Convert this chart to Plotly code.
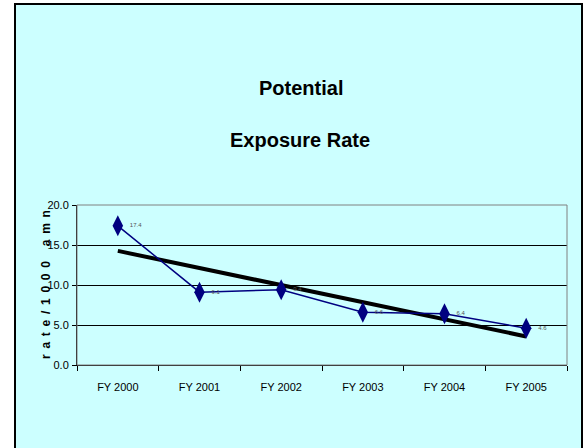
import numpy as np
import plotly.graph_objects as go

categories = ["FY 2000", "FY 2001", "FY 2002", "FY 2003", "FY 2004", "FY 2005"]
rate = [17.4, 9.1, 9.4, 6.6, 6.4, 4.6]
rate_labels = ["17.4", "9.1", "9.4", "6.6", "6.4", "4.6"]
y_ticks = [0, 5, 10, 15, 20]
y_tick_labels = ["0.0", "5.0", "10.0", "15.0", "20.0"]
y_title = "rate/1000 amn"

# linear trendline (least squares, as in the spreadsheet)
idx = np.arange(len(rate))
slope, intercept = np.polyfit(idx, rate, 1)
trend = list(intercept + slope * idx)

FONT = "Liberation Sans, Arial, sans-serif"

fig = go.Figure()
fig.add_trace(go.Scatter(
    x=categories, y=trend, mode="lines",
    line=dict(color="black", width=4), hoverinfo="skip", showlegend=False,
))
fig.add_trace(go.Scatter(
    x=categories, y=rate, mode="lines+markers+text",
    line=dict(color="#000080", width=1.5),
    marker=dict(symbol="diamond-tall", size=15, color="#000080"),
    text=[" " + t for t in rate_labels], textposition="middle right",
    textfont=dict(size=6, color="#555555", family=FONT),
    showlegend=False,
))

W, H = 585, 448
L, R, T, B = 77, 18, 205, 83
pw, ph = W - L - R, H - T - B

def px_x(p):
    return (p - L) / pw

def px_y(p):
    return (H - B - p) / ph

spaced_title = "\u00a0\u2009".join(list(y_title.replace(" ", "\u00a0")))

fig.update_layout(
    width=W, height=H,
    margin=dict(l=L, r=R, t=T, b=B, pad=0),
    paper_bgcolor="white",
    plot_bgcolor="#C0C0C0",
    font=dict(family=FONT, color="black", size=11),
    showlegend=False,
    shapes=[
        dict(type="rect", xref="paper", yref="paper",
             x0=px_x(15), x1=px_x(582), y0=px_y(4), y1=px_y(452),
             fillcolor="#CCFFFF", line=dict(color="black", width=2), layer="below"),
        dict(type="rect", xref="paper", yref="paper",
             x0=0, x1=1, y0=0, y1=1,
             fillcolor="rgba(0,0,0,0)", line=dict(color="#808080", width=1), layer="above"),
    ],
    annotations=[
        dict(text="<b>Potential</b>", xref="paper", yref="paper",
             x=px_x(301), y=px_y(88), xanchor="center", yanchor="middle", showarrow=False,
             font=dict(size=20, family=FONT, color="black")),
        dict(text="<b>Exposure Rate</b>", xref="paper", yref="paper",
             x=px_x(300), y=px_y(140), xanchor="center", yanchor="middle", showarrow=False,
             font=dict(size=20, family=FONT, color="black")),
        dict(text="<b>" + spaced_title + "</b>", xref="paper", yref="paper",
             x=px_x(46), y=px_y(285), xanchor="center", yanchor="middle",
             showarrow=False, textangle=-90,
             font=dict(size=12, family=FONT, color="black")),
    ],
)
fig.update_xaxes(
    type="category", tickson="boundaries", ticks="outside", ticklen=5,
    tickcolor="black", showline=True, linecolor="black", linewidth=1,
    showgrid=False, tickfont=dict(size=11, family=FONT), ticklabelstandoff=12,
    range=[-0.5, 5.5],
)
fig.update_yaxes(
    range=[0, 20], tickvals=y_ticks, ticktext=y_tick_labels,
    ticks="outside", ticklen=4, tickcolor="black",
    showline=True, linecolor="black", linewidth=1,
    showgrid=True, gridcolor="black", gridwidth=1,
    tickfont=dict(size=11, family=FONT), zeroline=False, ticklabelstandoff=1,
)

fig.write_html(
    "out.html",
    config={"displayModeBar": False},
    post_script="document.body.style.margin='0';document.body.style.overflow='hidden';",
)
